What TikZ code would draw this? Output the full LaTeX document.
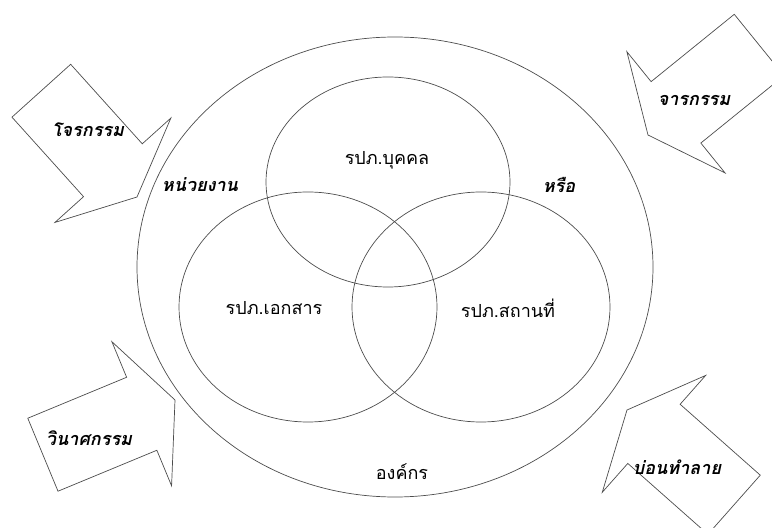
\documentclass[tikz,border=0pt]{standalone}
\usepackage{fontspec}
\newfontfamily\thaifont[Script=Thai]{Loma}

\begin{document}
\begin{tikzpicture}[x=1pt,y=1pt,
    ring/.style={draw=black!70, line width=0.7pt},
    threat/.style={draw=black!70, line width=0.7pt, fill=white},
    lbl/.style={font=\thaifont\fontsize{18}{21}\selectfont},
    slbl/.style={font=\thaifont\bfseries\itshape\fontsize{18}{21}\selectfont}]
\clip (0,0) rectangle (772,528);

% organisation and the three areas
\draw[ring] (395,261) ellipse (258pt and 230pt);
\draw[ring] (388,346) ellipse (122pt and 105pt);
\draw[ring] (308,221) ellipse (129pt and 115pt);
\draw[ring] (481,221) ellipse (129pt and 115pt);

% threats
\draw[threat,shift={(137,331)},rotate=-48]
  (0,0) -- (-36,78) -- (-36,39.5) -- (-143,39.5) -- (-143,-39.5) -- (-36,-39.5) -- (-36,-78) -- cycle;
\draw[threat,shift={(648,393)},rotate=219]
  (0,0) -- (-36,78) -- (-36,39.5) -- (-143,39.5) -- (-143,-39.5) -- (-36,-39.5) -- (-36,-78) -- cycle;
\draw[threat,shift={(175,128)},rotate=22.5]
  (0,0) -- (-36,78) -- (-36,39.5) -- (-143,39.5) -- (-143,-39.5) -- (-36,-39.5) -- (-36,-78) -- cycle;
\draw[threat,shift={(627,118)},rotate=138.5]
  (0,0) -- (-36,78) -- (-36,39.5) -- (-143,39.5) -- (-143,-39.5) -- (-36,-39.5) -- (-36,-78) -- cycle;

\node[slbl] (theft) at (88,398) {โจรกรรม};
\node[slbl] (spying) at (694,428) {จารกรรม};
\node[slbl] (sabotage) at (89,90) {วินาศกรรม};
\node[slbl] (subversion) at (677,61) {บ่อนทำลาย};

\node[slbl] (unit) at (200,343) {หน่วยงาน};
\node[slbl] (orword) at (559,343) {หรือ};
\node[lbl] (person) at (387,368) {รปภ.บุคคล};
\node[lbl] (docs) at (274,220) {รปภ.เอกสาร};
\node[lbl] (place) at (508,220) {รปภ.สถานที่};
\node[lbl] (org) at (402,56) {องค์กร};
\end{tikzpicture}
\end{document}
